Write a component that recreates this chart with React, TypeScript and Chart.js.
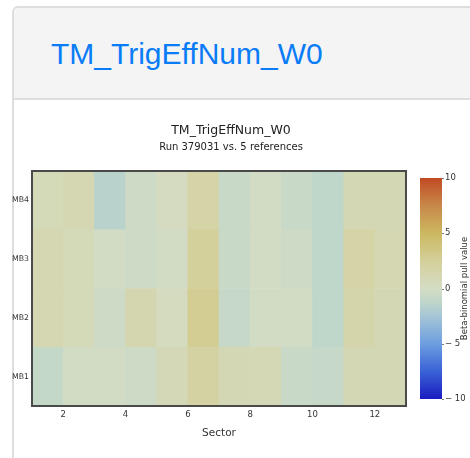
import React, { useEffect, useRef } from "react";
import { Chart, registerables } from "chart.js";

Chart.register(...registerables);

// ---------- data ----------
const sectors = [1, 2, 3, 4, 5, 6, 7, 8, 9, 10, 11, 12];
const rowLabels = ["MB1", "MB2", "MB3", "MB4"];
const mb1 = [-0.9, -0.1, -0.1, -0.45, 0.8, 2.0, 1.0, 0.9, -0.6, -0.8, 1.0, 1.0];
const mb2 = [1.1, 0.7, -0.45, 1.2, 0.3, 2.8, -0.8, -0.1, -0.1, -1.2, 1.5, 1.0];
const mb3 = [1.1, 0.7, -0.1, -0.45, -0.1, 2.4, -0.7, -0.1, -0.45, -1.2, 1.7, 1.1];
const mb4 = [0.7, 1.1, -1.5, -0.4, 0.2, 1.7, -0.7, -0.1, -0.6, -1.2, 1.0, 1.0];
const rows = [mb1, mb2, mb3, mb4];

const xTickValues = [2, 4, 6, 8, 10, 12];
const cbTickValues = [-10, -5, 0, 5, 10];
const cbMin = -10;
const cbMax = 10;
const cbStopValues = [-10, -7.5, -5, -2.5, -1.25, 0, 2.5, 5, 7.5, 10];
const cbStopColors = [
  "#1a1cc0",
  "#3a62d6",
  "#6c9ee0",
  "#a6c6d6",
  "#bed6ca",
  "#d4dcc4",
  "#d4d09a",
  "#ccb860",
  "#c8884a",
  "#c04a22",
];

const headerText = "TM_TrigEffNum_W0";
const chartTitle = "TM_TrigEffNum_W0";
const chartSubtitle = "Run 379031 vs. 5 references";
const xTitle = "Sector";
const cbTitle = "Beta-binomial pull value";

// ---------- helpers ----------
const FONT = "'DejaVu Sans', 'Noto Sans', sans-serif";

function hexToRgb(h: string) {
  const n = parseInt(h.slice(1), 16);
  return [(n >> 16) & 255, (n >> 8) & 255, n & 255];
}

function colorFor(v: number) {
  const x = Math.max(cbMin, Math.min(cbMax, v));
  for (let i = 0; i < cbStopValues.length - 1; i++) {
    const a = cbStopValues[i];
    const b = cbStopValues[i + 1];
    if (x >= a && x <= b) {
      const t = (x - a) / (b - a);
      const c1 = hexToRgb(cbStopColors[i]);
      const c2 = hexToRgb(cbStopColors[i + 1]);
      const c = c1.map((c, k) => Math.round(c + (c2[k] - c) * t));
      return `rgb(${c[0]},${c[1]},${c[2]})`;
    }
  }
  return cbStopColors[cbStopColors.length - 1];
}

const cbPad = 0.633;

const heatPlugin = {
  id: "heatExtras",
  afterDatasetsDraw(chart: any) {
    const { ctx, chartArea: a } = chart;
    ctx.save();
    ctx.strokeStyle = "#4a4a4a";
    ctx.lineWidth = 2;
    ctx.strokeRect(a.left, a.top, a.right - a.left, a.bottom - a.top);
    ctx.restore();
  },
  afterDraw(chart: any) {
    const { ctx } = chart;
    const s = chart.scales.cb;
    const yTop = s.getPixelForValue(cbMax);
    const yBot = s.getPixelForValue(cbMin);
    const x0 = s.left + 14;
    const w = 22;
    ctx.save();
    const g = ctx.createLinearGradient(0, yBot, 0, yTop);
    cbStopValues.forEach((v, i) =>
      g.addColorStop((v - cbMin) / (cbMax - cbMin), cbStopColors[i])
    );
    ctx.fillStyle = g;
    ctx.fillRect(x0, yTop, w, yBot - yTop);
    // small tick marks
    ctx.strokeStyle = "#777";
    ctx.lineWidth = 1;
    cbTickValues.forEach((v) => {
      const y = Math.round(s.getPixelForValue(v)) + 0.5;
      ctx.beginPath();
      ctx.moveTo(x0 + w, y);
      ctx.lineTo(x0 + w + 2, y);
      ctx.stroke();
    });
    // rotated title
    ctx.translate(465, (yTop + yBot) / 2);
    ctx.rotate(-Math.PI / 2);
    ctx.fillStyle = "#333";
    ctx.font = `8.5px ${FONT}`;
    ctx.textAlign = "center";
    ctx.textBaseline = "middle";
    ctx.fillText(cbTitle, 0, 0);
    ctx.restore();
  },
};

function HeatChart() {
  const ref = useRef<HTMLCanvasElement | null>(null);
  useEffect(() => {
    if (!ref.current) return;
    const datasets = rows.map((vals, r) => ({
      label: rowLabels[r],
      data: sectors.map((s) => ({ x: s + 0.5, y: [r, r + 1] })),
      backgroundColor: vals.map((v) => colorFor(v)),
      borderWidth: 0,
      grouped: false,
      categoryPercentage: 1,
      barPercentage: 1,
      xAxisID: "x",
      yAxisID: "y",
    }));
    const noGrid = { display: false, drawTicks: false, tickLength: 0 };
    const chart = new Chart(ref.current, {
      type: "bar",
      data: { datasets } as any,
      plugins: [heatPlugin],
      options: {
        animation: false,
        responsive: false,
        events: [],
        layout: { padding: { left: -8, right: 0, top: 0, bottom: 18.7 } },
        plugins: {
          legend: { display: false },
          tooltip: { enabled: false },
          title: {
            display: true,
            text: chartTitle,
            color: "#222",
            font: { family: FONT, size: 12.5, weight: "normal" },
            padding: { top: 23.5, bottom: 0 },
          },
          subtitle: {
            display: true,
            text: chartSubtitle,
            color: "#222",
            font: { family: FONT, size: 10, weight: "normal" },
            padding: { top: 3, bottom: 17.5 },
          },
        },
        scales: {
          x: {
            type: "linear",
            min: 1,
            max: 13,
            offset: false,
            grid: noGrid,
            border: { display: false },
            afterBuildTicks: (axis: any) => {
              axis.ticks = xTickValues.map((v) => ({ value: v }));
            },
            afterFit: (axis: any) => {
              axis.height = 33.3;
            },
            ticks: {
              autoSkip: false,
              maxRotation: 0,
              padding: 4,
              color: "#333",
              font: { family: FONT, size: 8.5 },
              callback: (v: any) => String(v),
            },
            title: {
              display: true,
              text: xTitle,
              color: "#333",
              padding: 0,
              font: { family: FONT, size: 10.5 },
            },
          },
          y: {
            type: "linear",
            min: 0,
            max: 4,
            grid: noGrid,
            border: { display: false },
            afterBuildTicks: (axis: any) => {
              axis.ticks = rowLabels.map((_, i) => ({ value: i + 0.5 }));
            },
            afterFit: (axis: any) => {
              axis.width = 40;
            },
            ticks: {
              padding: 3,
              color: "#333",
              font: { family: FONT, size: 7.8 },
              callback: (v: any) => rowLabels[Math.floor(Number(v))],
            },
          },
          cb: {
            type: "linear",
            position: "right",
            display: true,
            min: cbMin - cbPad,
            max: cbMax + cbPad,
            grid: noGrid,
            border: { display: false },
            afterBuildTicks: (axis: any) => {
              axis.ticks = cbTickValues.map((v) => ({ value: v }));
            },
            afterFit: (axis: any) => {
              axis.width = 64;
            },
            ticks: {
              padding: 39,
              color: "#333",
              font: { family: FONT, size: 8.5 },
              callback: (v: any) => {
                const n = Number(v);
                return n < 0 ? "\u2212 " + Math.abs(n) : String(n);
              },
            },
          },
        } as any,
      },
    });
    return () => chart.destroy();
  }, []);
  return (
    <canvas
      ref={ref}
      width={470}
      height={358}
      style={{ position: "absolute", left: 0, top: 100, width: 470, height: 358 }}
    />
  );
}

export default function App() {
  return (
    <div
      style={{
        position: "fixed",
        left: 0,
        top: 0,
        width: 470,
        height: 458,
        overflow: "hidden",
        background: "#fff",
      }}
    >
      <div
        style={{
          position: "absolute",
          left: 12,
          top: 6,
          width: 500,
          height: 500,
          border: "2px solid #dedede",
          borderRadius: 6,
          background: "#fff",
          boxSizing: "border-box",
          overflow: "hidden",
        }}
      >
        <div
          style={{
            height: 90,
            background: "#f4f4f4",
            borderBottom: "2px solid #dedede",
          }}
        />
      </div>
      <div
        style={{
          position: "absolute",
          left: 51,
          top: 38.6,
          fontFamily: "'Liberation Sans', Arial, sans-serif",
          fontSize: 30,
          lineHeight: "30px",
          color: "#0a7cf8",
          whiteSpace: "nowrap",
        }}
      >
        {headerText}
      </div>
      <HeatChart />
    </div>
  );
}
